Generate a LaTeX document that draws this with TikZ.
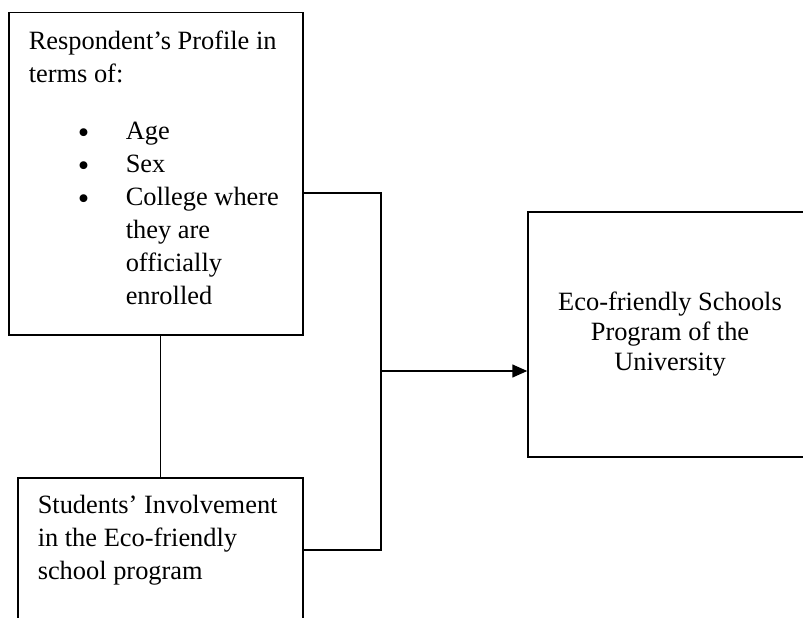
\documentclass[tikz,border=0pt]{standalone}
\usepackage{fontspec}
\setmainfont{Liberation Serif}
\usetikzlibrary{arrows.meta}

\newcommand{\itemdot}{\makebox[48pt][l]{\raisebox{-4.5pt}{\scalebox{1.24}{\textbullet}}}}

\begin{document}
\begin{tikzpicture}[x=1pt, y=-1pt,
        every node/.style={font=\fontsize{26.4}{33}\selectfont},
        box/.style={draw, line width=1.5pt, inner xsep=20pt},
        link/.style={line width=1.5pt}]
        \useasboundingbox (0,0) rectangle (803,618);
        \clip (0,0) rectangle (803,618);

        % Profile box
        \node[box, anchor=north west, inner ysep=18pt] (profile) at (8,12)
            {\parbox[t][286pt][t]{254pt}{Respondent's Profile in\\
             terms of:\\[24pt]
             \hspace*{49pt}\itemdot Age\\
             \hspace*{49pt}\itemdot Sex\\
             \hspace*{49pt}\itemdot College where\\
             \hspace*{97pt}they are\\
             \hspace*{97pt}officially\\
             \hspace*{97pt}enrolled}};

        % Involvement box
        \node[box, anchor=north west, inner ysep=17pt] (involve) at (17,477)
            {\parbox[t][130pt][t]{245pt}{Students' Involvement\\
             in the Eco-friendly\\
             school program}};

        % Program box
        \node[box, minimum width=284pt, minimum height=245pt, align=center,
              font=\fontsize{26.4}{30}\selectfont] (program) at (670,334.5)
            {Eco-friendly Schools\\ Program of the\\ University};

        % Junction
        \coordinate (bustop) at (381,193);
        \coordinate (busmid) at (381,371);
        \coordinate (busbot) at (381,550);

        \draw[link] (involve.north |- profile.south) -- (involve.north);
        \draw[link] (profile.east |- bustop) -- (bustop) -- (busbot) -- (involve.east |- busbot);
        \draw[link, -{Triangle[length=15pt, width=13pt]}] (busmid) -- (program.west |- busmid);
    \end{tikzpicture}
\end{document}
